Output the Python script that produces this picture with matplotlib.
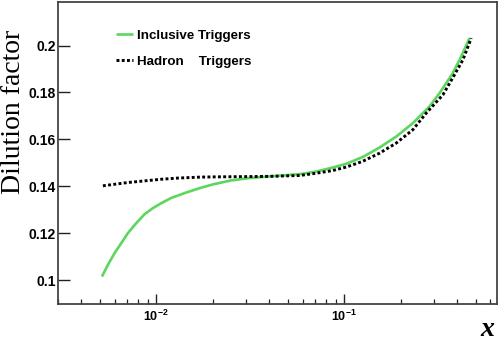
import math
import matplotlib
matplotlib.use("Agg")
import matplotlib.pyplot as plt
from matplotlib.ticker import FixedLocator, FuncFormatter, LogLocator, NullFormatter

# Inclusive triggers (green solid)
incl_x = [0.00514, 0.00553, 0.0060, 0.00652, 0.00706, 0.00783, 0.00867, 0.0096,
          0.01063, 0.0120, 0.01415, 0.0170, 0.0200, 0.025, 0.0313, 0.040, 0.0471,
          0.060, 0.0710, 0.085, 0.1026, 0.1256, 0.154, 0.189, 0.2317, 0.284,
          0.3213, 0.378, 0.419, 0.464]
incl_y = [0.1015, 0.1065, 0.1115, 0.1158, 0.1200, 0.1243, 0.1281, 0.1307,
          0.1328, 0.1350, 0.1371, 0.1392, 0.1408, 0.1425, 0.1435, 0.1442, 0.1446,
          0.1453, 0.1463, 0.1478, 0.1496, 0.1525, 0.1565, 0.1612, 0.1669, 0.1740,
          0.1797, 0.1882, 0.1953, 0.2032]

# Hadron triggers (black dotted)
had_x = [0.0052, 0.00706, 0.00867, 0.01063, 0.01303, 0.0170, 0.0200, 0.0385,
         0.0578, 0.070, 0.0867, 0.1026, 0.125, 0.154, 0.189, 0.2317, 0.273,
         0.335, 0.377, 0.428, 0.474]
had_y = [0.1402, 0.1416, 0.1423, 0.1430, 0.1435, 0.1439, 0.1440, 0.1442,
         0.1446, 0.1455, 0.1467, 0.1482, 0.1506, 0.1541, 0.1584, 0.1641, 0.1712,
         0.1790, 0.1861, 0.1939, 0.2032]

y_ticks = [0.1, 0.12, 0.14, 0.16, 0.18, 0.2]
x_ticks = [0.01, 0.1]

plt.rcParams['font.family'] = 'Liberation Sans'
plt.rcParams['mathtext.fontset'] = 'custom'
plt.rcParams['mathtext.bf'] = 'Liberation Sans:bold'
plt.rcParams['mathtext.rm'] = 'Liberation Sans:bold'

W, H = 498, 344
fig = plt.figure(figsize=(W / 100, H / 100), dpi=100)
ax = fig.add_axes([58 / W, 1 - 303.5 / H, (497 - 58) / W, (303.5 - 2) / H])

ax.plot(incl_x, incl_y, color='#5cd65c', lw=1.9, solid_capstyle='butt',
        label='Inclusive Triggers')
ax.plot(had_x, had_y, color='black', lw=2.1, linestyle=(0, (1.0, 0.8)),
        label='Hadron    Triggers')

ax.set_xscale('log')
ax.set_xlim(0.003, 0.65)
ax.set_ylim(0.09, 0.2186)

ax.yaxis.set_major_locator(FixedLocator(y_ticks))
ax.yaxis.set_major_formatter(FuncFormatter(lambda v, p: '%g' % v))
ax.xaxis.set_major_locator(FixedLocator(x_ticks))
ax.xaxis.set_major_formatter(FuncFormatter(
    lambda v, p: r'$\mathbf{10^{%d}}$' % round(math.log10(v))))
ax.xaxis.set_minor_locator(LogLocator(base=10, subs=range(2, 10)))
ax.xaxis.set_minor_formatter(NullFormatter())

for lab in ax.get_yticklabels():
    lab.set_fontweight('bold')
ax.tick_params(axis='y', which='major', direction='in', length=8.6, width=1,
               labelsize=10, pad=1.5, color='#222222')
ax.tick_params(axis='x', which='major', direction='in', length=7, width=1,
               labelsize=9, pad=3.5, color='#222222')
ax.tick_params(axis='x', which='minor', direction='in', length=3.6, width=0.9,
               color='#222222')

for s in ax.spines.values():
    s.set_color('#444444')
    s.set_linewidth(1.3)

leg = ax.legend(loc='upper left', bbox_to_anchor=(0.132, 0.908), frameon=False,
                borderpad=0, borderaxespad=0,
                handlelength=1.3, handletextpad=0.25, labelspacing=1.0,
                prop={'weight': 'bold', 'size': 9.6})

fig.text(13.5 / W, 1 - 111.5 / H, 'Dilution factor', rotation=90, ha='center',
         va='center', family='Liberation Serif', fontsize=20)
fig.text(487 / W, 1 - 330 / H, 'x', ha='center', va='center',
         family='Liberation Serif', style='italic', weight='bold', fontsize=20)

fig.savefig('out.png', dpi=100)
